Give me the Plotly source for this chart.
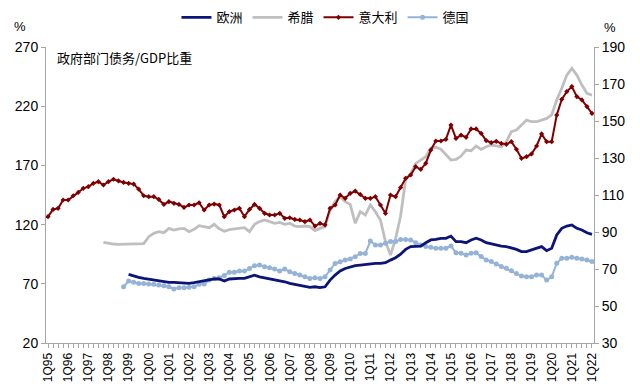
import plotly.graph_objects as go

# quarter labels 1Q95 .. 1Q22
quarters = [f"{q}Q{y % 100:02d}" for y in range(1995, 2023) for q in range(1, 5)][:109]
idx = list(range(len(quarters)))

tick_labels = quarters[::4]

# Italy (right axis)
italy = [98.3,102.2,102.8,107.3,107.3,109.6,111.4,113.6,114.5,116.3,
         117.2,115.4,117.2,118.5,117.6,116.8,116.3,115.9,113.2,109.6,
         109.1,109.1,107.6,104.9,106.4,105.5,104.9,103.3,104.6,104.6,
         105.8,101.9,104.6,105.1,104.6,98.3,101.0,101.9,102.8,98.3,
         102.2,104.9,102.8,100.1,99.2,99.2,100.1,97.4,97.7,96.8,
         96.5,95.6,96.5,93.2,94.7,93.8,102.8,104.6,110.0,108.2,
         110.9,112.1,110.3,108.2,108.2,109.1,104.6,100.1,110.0,109.1,
         114.0,119.0,120.8,125.3,123.9,127.1,134.3,139.2,139.2,140.1,
         147.8,140.6,142.4,141.2,145.7,145.7,143.3,139.4,138.3,139.0,
         137.9,137.4,138.8,134.7,129.8,130.7,132.2,136.5,143.0,138.8,
         138.8,153.2,161.7,165.9,168.6,163.2,161.4,157.8,154.1]

# Greece (left axis)
greece = [None]*11 + [
         105.0,104.2,103.6,103.3,103.3,103.3,103.6,103.6,103.9,
         109.8,112.6,114.0,113.2,116.8,115.4,116.3,116.8,114.0,116.0,
         119.1,118.3,117.4,120.2,116.5,114.3,115.8,116.3,116.8,117.4,
         114.0,120.2,122.5,123.9,122.5,121.1,121.9,120.2,121.1,118.8,
         118.3,118.8,118.3,114.9,116.8,118.3,132.3,139.4,143.6,139.4,
         137.1,121.1,130.9,128.1,136.6,130.9,123.9,105.6,94.3,108.0,
         127.0,158.0,163.0,171.7,174.5,177.4,184.4,185.3,183.6,178.8,
         174.5,175.1,177.9,183.0,182.4,186.4,183.6,185.8,187.2,186.4,
         185.8,190.0,198.5,199.9,204.1,208.3,206.9,206.9,208.3,209.7,
         212.6,225.2,235.1,246.3,252.0,246.3,237.9,230.9,229.4]

# Euro area (right axis)
euro = [None]*16 + [
         67.1,66.2,65.5,64.9,
         64.4,64.0,63.5,63.1,62.8,62.8,62.6,62.4,62.2,62.6,
         63.1,63.5,64.0,64.6,64.6,63.5,64.6,64.9,64.9,64.9,
         65.8,66.7,65.8,65.3,64.6,64.0,63.5,63.1,62.2,61.7,
         61.0,60.4,60.1,60.4,59.9,60.4,64.0,66.7,68.9,70.3,
         71.2,71.8,72.1,72.5,72.7,73.0,73.0,73.4,74.8,76.1,
         78.0,80.6,82.1,82.4,82.4,84.2,85.7,86.0,86.6,86.6,
         87.8,84.8,84.8,84.2,85.7,86.6,85.7,84.2,83.5,83.0,
         82.4,82.1,81.5,80.6,79.4,79.4,80.3,81.2,82.1,79.9,
         81.2,88.4,92.0,93.2,93.8,92.0,91.1,89.6,88.7]

# Germany (right axis)
germany = [None]*15 + [
         60.4,63.5,62.8,62.2,62.2,
         61.9,61.7,61.3,61.0,60.4,59.2,59.9,59.9,60.1,60.4,
         61.7,61.9,64.0,64.9,65.3,66.5,68.2,68.2,68.9,68.9,
         70.3,71.8,72.1,71.2,70.7,70.0,68.9,70.0,68.5,67.6,
         66.7,65.8,64.9,65.3,64.9,65.8,69.4,73.0,73.9,74.8,
         75.4,76.6,78.4,78.4,85.1,83.0,83.0,83.9,84.8,84.8,
         86.0,86.0,85.7,84.2,83.0,82.1,81.7,81.2,81.2,81.2,
         82.4,78.8,78.5,77.6,78.5,78.8,76.7,74.9,74.0,72.7,
         71.3,70.4,69.1,67.6,66.2,65.8,65.8,66.7,66.7,64.0,
         65.8,73.1,75.8,75.8,76.3,75.8,75.4,74.9,74.0]

left_ticks = [20, 70, 120, 170, 220, 270]
right_ticks = [30, 50, 70, 90, 110, 130, 150, 170, 190]

FONT = "Liberation Sans, Arial, sans-serif"
CJK = "Noto Sans CJK SC, sans-serif"
AXC = "#A6A6A6"

fig = go.Figure()
fig.add_trace(go.Scatter(x=idx, y=greece, name="希腊", mode="lines",
                         line=dict(color="#BFBFBF", width=2.8), legendrank=2, yaxis="y"))
fig.add_trace(go.Scatter(x=idx, y=germany, name="德国", mode="lines+markers",
                         line=dict(color="#95B3D7", width=2),
                         marker=dict(symbol="circle", size=5, color="#95B3D7"),
                         legendrank=4, yaxis="y2"))
fig.add_trace(go.Scatter(x=idx, y=euro, name="欧洲", mode="lines",
                         line=dict(color="#0C1478", width=2.8), legendrank=1, yaxis="y2"))
fig.add_trace(go.Scatter(x=idx, y=italy, name="意大利", mode="lines+markers",
                         line=dict(color="#7F0000", width=2),
                         marker=dict(symbol="diamond", size=4, color="#7F0000"),
                         legendrank=3, yaxis="y2"))

fig.update_layout(
    width=640, height=392,
    margin=dict(l=46, r=46, t=47, b=49, autoexpand=False),
    paper_bgcolor="white", plot_bgcolor="white",
    font=dict(family=FONT, size=13, color="#000000"),
    showlegend=True,
    legend=dict(orientation="h", x=0.51, xanchor="center", y=1.1, yanchor="middle",
                font=dict(family=CJK, size=13, color="#000000"),
                itemwidth=30, tracegroupgap=0, bgcolor="rgba(0,0,0,0)"),
    xaxis=dict(range=[-0.4, 108.4], tickmode="array", tickvals=idx[::4], ticktext=tick_labels,
               tickangle=-90, ticks="outside", ticklen=4, tickcolor=AXC,
               minor=dict(tick0=0, dtick=1, ticks="outside", ticklen=4, tickcolor=AXC),
               showline=True, linecolor=AXC, linewidth=1, showgrid=False, zeroline=False,
               tickfont=dict(family=FONT, size=12)),
    yaxis=dict(range=[20, 270], tickmode="array", tickvals=left_ticks,
               ticks="outside", ticklen=4, tickcolor=AXC,
               showline=True, linecolor=AXC, linewidth=1, showgrid=False, zeroline=False,
               tickfont=dict(family=FONT, size=14)),
    yaxis2=dict(range=[30, 190], tickmode="array", tickvals=right_ticks,
                overlaying="y", side="right",
                ticks="outside", ticklen=4, tickcolor=AXC,
                showline=True, linecolor=AXC, linewidth=1, showgrid=False, zeroline=False,
                tickfont=dict(family=FONT, size=14)),
)

fig.add_annotation(text="%", xref="paper", yref="paper", x=-0.047, y=1.07,
                   xanchor="center", yanchor="middle", showarrow=False,
                   font=dict(family=FONT, size=13))
fig.add_annotation(text="%", xref="paper", yref="paper", x=1.03, y=1.065,
                   xanchor="center", yanchor="middle", showarrow=False,
                   font=dict(family=FONT, size=13))
fig.add_annotation(text="政府部门债务/GDP比重", xref="paper", yref="paper", x=0.016, y=0.965,
                   xanchor="left", yanchor="middle", showarrow=False,
                   font=dict(family=CJK, size=13, color="#000000"))

fig.write_html("out.html", config={"displayModeBar": False},
               post_script="document.body.style.margin='0';document.body.style.overflow='hidden';")
